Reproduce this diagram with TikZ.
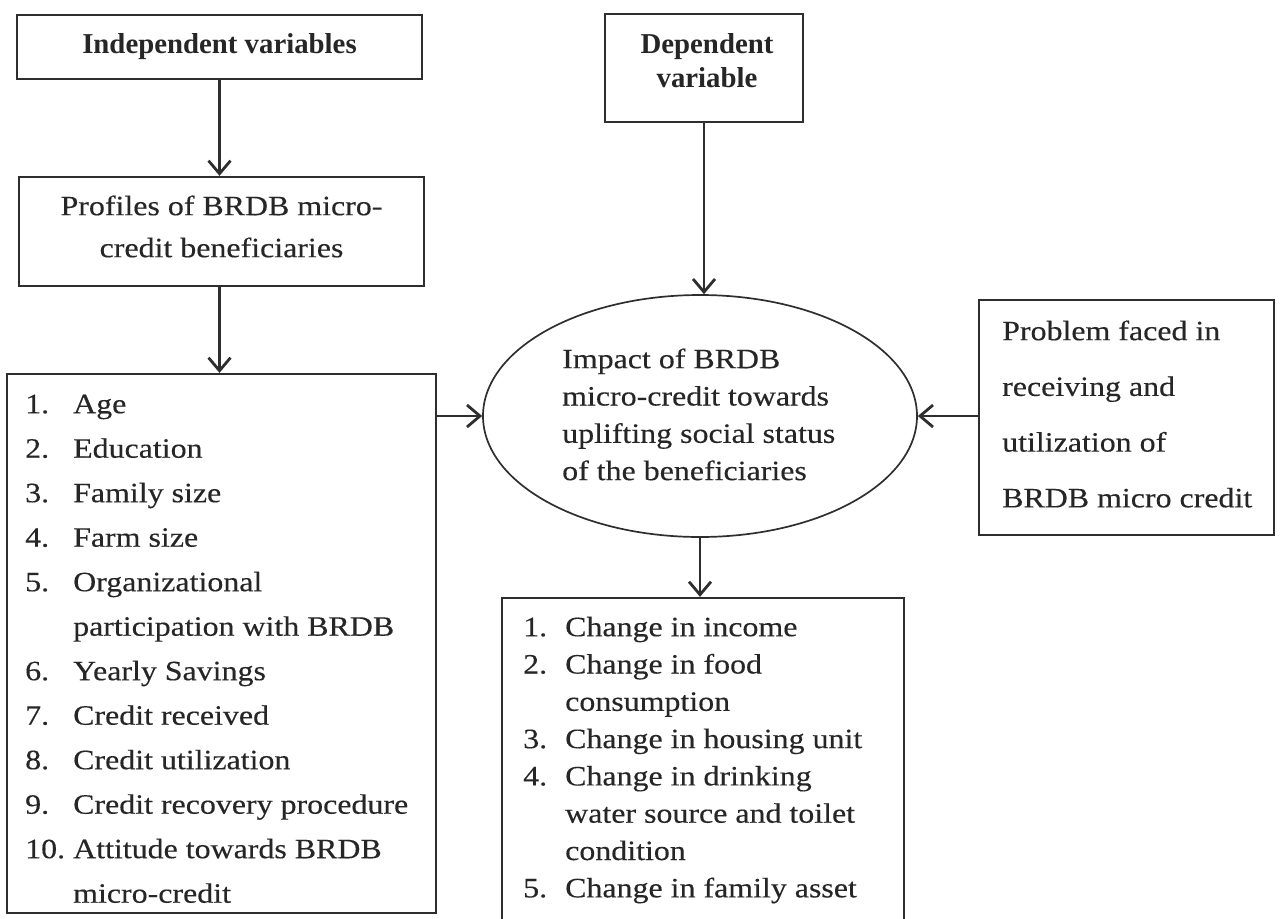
\documentclass[tikz,border=0pt]{standalone}
\usepackage{fontspec}
\setmainfont{Liberation Serif}[FakeStretch=1.14,FakeBold=0.3]
\newfontfamily\hdfont{Liberation Serif}
\usetikzlibrary{arrows.meta,shapes.geometric}
\definecolor{ink}{HTML}{2E2E2E}
\definecolor{txt}{HTML}{262626}
\begin{document}
\begin{tikzpicture}[x=1pt,y=-1pt,
  box/.style={draw=ink, line width=2.3pt, inner sep=0pt, rectangle, text=txt},
  oval/.style={draw=ink, line width=1.7pt, inner sep=0pt, ellipse},
  conn/.style={draw=ink, line width=2.8pt, -{Straight Barb[length=13pt,width=22pt]}},
  txtn/.style={text=txt, inner sep=0pt, anchor=north west, align=left},
  hd/.style={font=\hdfont\bfseries\fontsize{28.8}{34}\selectfont}
]
\useasboundingbox (0,0) rectangle (1281,918);
\clip (0,0) rectangle (1281,918);

% boxes
\node[box, hd, minimum width=405pt, minimum height=64pt] (ind) at (219.5,47) {Independent variables};
\node[box, minimum width=198pt, minimum height=108pt] (dep) at (704,68) {};
\node[box, minimum width=405pt, minimum height=109pt] (prof) at (221.5,231.5) {};
\node[box, minimum width=429pt, minimum height=539pt] (list) at (221.5,643.5) {};
\node[oval, minimum width=434pt, minimum height=242pt] (ell) at (700,416) {};
\node[box, minimum width=295pt, minimum height=235pt] (prob) at (1126.5,417.5) {};
\node[box, minimum width=402pt, minimum height=327pt] (out) at (703,761.5) {};

% texts
\node[txtn, hd, anchor=north, align=center] (dept) at (707,31) {\rule{0pt}{22pt}Dependent\\variable};
\node[txtn, anchor=north, align=center, font=\fontsize{28}{42}\selectfont] (proft) at (221.5,193)
  {\rule{0pt}{22pt}Profiles of BRDB micro-\\credit beneficiaries};
\node[txtn, font=\fontsize{28}{44.5}\selectfont] (listt) at (25,391)
  {\rule{0pt}{22pt}\makebox[48pt][l]{1.}Age\\
   \makebox[48pt][l]{2.}Education\\
   \makebox[48pt][l]{3.}Family size\\
   \makebox[48pt][l]{4.}Farm size\\
   \makebox[48pt][l]{5.}Organizational\\
   \makebox[48pt][l]{}participation with BRDB\\
   \makebox[48pt][l]{6.}Yearly Savings\\
   \makebox[48pt][l]{7.}Credit received\\
   \makebox[48pt][l]{8.}Credit utilization\\
   \makebox[48pt][l]{9.}Credit recovery procedure\\
   \makebox[48pt][l]{10.}Attitude towards BRDB\\
   \makebox[48pt][l]{}micro-credit};
\node[txtn, font=\fontsize{28}{37.3}\selectfont] (ellt) at (562,346)
  {\rule{0pt}{22pt}Impact of BRDB\\micro-credit towards\\uplifting social status\\of the beneficiaries};
\node[txtn, font=\fontsize{28}{55.7}\selectfont] (probt) at (1002,318)
  {\rule{0pt}{22pt}Problem faced in\\receiving and\\utilization of\\BRDB micro credit};
\node[txtn, font=\fontsize{28}{37.3}\selectfont] (outt) at (523,614)
  {\rule{0pt}{22pt}\makebox[42pt][l]{1.}Change in income\\
   \makebox[42pt][l]{2.}Change in food\\
   \makebox[42pt][l]{}consumption\\
   \makebox[42pt][l]{3.}Change in housing unit\\
   \makebox[42pt][l]{4.}Change in drinking\\
   \makebox[42pt][l]{}water source and toilet\\
   \makebox[42pt][l]{}condition\\
   \makebox[42pt][l]{5.}Change in family asset};

% connectors
\draw[conn] (ind.south) -- (ind.south |- prof.north);
\draw[conn] (prof.south -| ind.south) -- (ind.south |- list.north);
\draw[conn] (dep.south) -- (dep.south |- ell.north);
\draw[conn] (list.east |- ell.west) -- (ell.west);
\draw[conn] (prob.west |- ell.east) -- (ell.east);
\draw[conn] (ell.south) -- (ell.south |- out.north);
\end{tikzpicture}
\end{document}
